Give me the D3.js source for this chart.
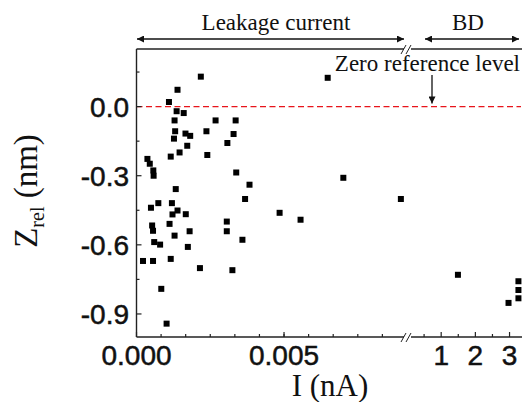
<!DOCTYPE html>
<html>
<head>
<meta charset="utf-8">
<script src="https://cdn.jsdelivr.net/npm/d3@7"></script>
<style>
  body { margin: 0; background: #fff; }
  svg { display: block; }
</style>
</head>
<body>
<div id="chart"></div>
<script>
// leakage current points (I in nA, Zrel in nm)
const leakI = [0.00218, 0.00139, 0.00110, 0.00136, 0.00160, 0.00129, 0.00268, 0.00336,
  0.00131, 0.00237, 0.00329, 0.00166, 0.00182, 0.00127, 0.00172, 0.00308, 0.00146,
  0.00116, 0.00240, 0.00037, 0.00045, 0.00057, 0.00058, 0.00338, 0.00383, 0.00133,
  0.00368, 0.00074, 0.00120, 0.00049, 0.00139, 0.00122, 0.00167, 0.00112, 0.00306,
  0.00053, 0.00056, 0.00129, 0.00180, 0.00306, 0.00359, 0.00060, 0.00080, 0.00174,
  0.00022, 0.00056, 0.00116, 0.00215, 0.00325, 0.00084, 0.00102, 0.00648, 0.00701,
  0.00485, 0.00556, 0.00896];
const leakZ = [0.130, 0.073, 0.020, -0.020, -0.028, -0.060, -0.060, -0.060,
  -0.107, -0.107, -0.119, -0.117, -0.127, -0.139, -0.170, -0.158, -0.199,
  -0.217, -0.210, -0.227, -0.248, -0.277, -0.300, -0.286, -0.339, -0.358,
  -0.401, -0.419, -0.419, -0.439, -0.451, -0.468, -0.467, -0.509, -0.499,
  -0.516, -0.539, -0.560, -0.541, -0.541, -0.578, -0.588, -0.599, -0.609,
  -0.670, -0.670, -0.661, -0.701, -0.710, -0.791, -0.942, 0.125, -0.309,
  -0.461, -0.491, -0.401];
// breakdown points
const bdI = [1.49, 2.97, 3.26, 3.26, 3.26];
const bdZ = [-0.730, -0.852, -0.758, -0.796, -0.832];

const yTicks = [0.0, -0.3, -0.6, -0.9];
const yMinor = [0.15, -0.15, -0.45, -0.75];
const leakTicks = [0, 0.005];
const bdTicks = [1, 2, 3];
const bdMinor = [0.5, 1.5, 2.5];

const W = 522, H = 402;
const mLeft = 136.5, mRight = 521, mTop = 49, mBottom = 337;
const breakX = 407;

const svg = d3.select("#chart").append("svg")
  .attr("width", W).attr("height", H);

const y = d3.scaleLinear().domain([-1.0, 0.25]).range([mBottom, mTop]);
const xLeak = d3.scaleLinear().domain([0, 0.0091]).range([mLeft, 405]);
const xBD = d3.scaleLinear().domain([0, 3.335]).range([breakX, mRight]);

const axisColor = "#222";
const serif = "'Liberation Serif', 'Times New Roman', serif";
const sans = "'Liberation Sans', Arial, sans-serif";

// arrowhead marker
svg.append("defs").append("marker")
  .attr("id", "ah")
  .attr("viewBox", "0 0 10 10")
  .attr("refX", 10).attr("refY", 5)
  .attr("markerWidth", 9).attr("markerHeight", 7)
  .attr("markerUnits", "userSpaceOnUse")
  .attr("orient", "auto-start-reverse")
  .append("path").attr("d", "M0,0 L10,5 L0,10 z").attr("fill", "#111");

// zero reference line
svg.append("line")
  .attr("x1", mLeft).attr("x2", mRight)
  .attr("y1", y(0)).attr("y2", y(0))
  .attr("stroke", "#e8141b").attr("stroke-width", 1.4)
  .attr("stroke-dasharray", "6,3.5");

// axes frame
const gAx = svg.append("g").attr("stroke", axisColor).attr("stroke-width", 1.4).attr("fill", "none");
gAx.append("line").attr("x1", mLeft).attr("x2", mLeft).attr("y1", mTop).attr("y2", mBottom);
[mTop, mBottom].forEach(yy => {
  gAx.append("line").attr("x1", mLeft).attr("x2", 404).attr("y1", yy).attr("y2", yy);
  gAx.append("line").attr("x1", 411).attr("x2", mRight + 1).attr("y1", yy).attr("y2", yy);
  // break marks
  gAx.append("line").attr("x1", 401).attr("x2", 406).attr("y1", yy + 5).attr("y2", yy - 4).attr("stroke-width", 1);
  gAx.append("line").attr("x1", 406).attr("x2", 411).attr("y1", yy + 5).attr("y2", yy - 4).attr("stroke-width", 1);
});

// y ticks (inward)
const gTicks = svg.append("g").attr("stroke", axisColor).attr("stroke-width", 1.2);
yTicks.forEach(v => gTicks.append("line").attr("x1", mLeft).attr("x2", mLeft + 5).attr("y1", y(v)).attr("y2", y(v)));
yMinor.forEach(v => gTicks.append("line").attr("x1", mLeft).attr("x2", mLeft + 3).attr("y1", y(v)).attr("y2", y(v)));

// x ticks (inward)
const leakMinor = d3.range(1, 11).map(i => i * 0.005 / 6);
leakMinor.forEach(v => gTicks.append("line").attr("x1", xLeak(v)).attr("x2", xLeak(v)).attr("y1", mBottom).attr("y2", mBottom - 3));
leakTicks.forEach(v => gTicks.append("line").attr("x1", xLeak(v)).attr("x2", xLeak(v)).attr("y1", mBottom).attr("y2", mBottom - 5));
bdMinor.forEach(v => gTicks.append("line").attr("x1", xBD(v)).attr("x2", xBD(v)).attr("y1", mBottom).attr("y2", mBottom - 3));
bdTicks.forEach(v => gTicks.append("line").attr("x1", xBD(v)).attr("x2", xBD(v)).attr("y1", mBottom).attr("y2", mBottom - 5));

// tick labels
const fmtY = d => d3.format(".1f")(d).replace("\u2212", "-");
const tickLabel = sel => sel
  .attr("font-family", sans).attr("font-size", 28)
  .attr("fill", "#111").attr("stroke", "#111").attr("stroke-width", 0.5);

svg.append("g").selectAll("text").data(yTicks).join("text")
  .attr("x", 129).attr("y", d => y(d) + 10)
  .attr("text-anchor", "end")
  .call(tickLabel)
  .text(fmtY);

svg.append("g").selectAll("text").data(leakTicks).join("text")
  .attr("x", d => xLeak(d)).attr("y", 365)
  .attr("text-anchor", "middle")
  .call(tickLabel)
  .text(d => d3.format(".3f")(d));

svg.append("g").selectAll("text").data(bdTicks).join("text")
  .attr("x", d => xBD(d)).attr("y", 365)
  .attr("text-anchor", "middle")
  .call(tickLabel)
  .text(d => d);

// axis titles
svg.append("text")
  .attr("x", 330).attr("y", 396)
  .attr("text-anchor", "middle")
  .attr("font-family", serif).attr("font-size", 31)
  .attr("fill", "#111")
  .text("I (nA)");

const yl = svg.append("text")
  .attr("transform", "translate(37,191) rotate(-90)")
  .attr("text-anchor", "middle")
  .attr("font-family", serif).attr("font-size", 33)
  .attr("fill", "#111");
yl.append("tspan").text("Z");
yl.append("tspan").attr("font-size", 20).attr("dy", 7).text("rel");
yl.append("tspan").attr("dy", -7).text(" (nm)");

// region arrows and labels
svg.append("line").attr("x1", 137).attr("x2", 404).attr("y1", 39).attr("y2", 39)
  .attr("stroke", "#111").attr("stroke-width", 1.3)
  .attr("marker-start", "url(#ah)").attr("marker-end", "url(#ah)");
svg.append("line").attr("x1", 425).attr("x2", 519).attr("y1", 39).attr("y2", 39)
  .attr("stroke", "#111").attr("stroke-width", 1.3)
  .attr("marker-start", "url(#ah)").attr("marker-end", "url(#ah)");

svg.append("text").attr("x", 276).attr("y", 30)
  .attr("text-anchor", "middle")
  .attr("font-family", serif).attr("font-size", 23).attr("fill", "#111")
  .text("Leakage current");
svg.append("text").attr("x", 468).attr("y", 30)
  .attr("text-anchor", "middle")
  .attr("font-family", serif).attr("font-size", 23).attr("fill", "#111")
  .text("BD");

svg.append("text").attr("x", 520).attr("y", 71)
  .attr("text-anchor", "end")
  .attr("font-family", serif).attr("font-size", 23).attr("fill", "#111")
  .text("Zero reference level");
svg.append("line").attr("x1", 432).attr("x2", 432).attr("y1", 75).attr("y2", y(0) - 3)
  .attr("stroke", "#111").attr("stroke-width", 1.3)
  .attr("marker-end", "url(#ah)");

// points
const sz = 6;
const leakPts = leakI.map((v, i) => ({ x: xLeak(v), y: y(leakZ[i]) }));
const bdPts = bdI.map((v, i) => ({ x: xBD(v), y: y(bdZ[i]) }));
svg.append("g").selectAll("rect").data(leakPts.concat(bdPts)).join("rect")
  .attr("x", d => d.x - sz / 2).attr("y", d => d.y - sz / 2)
  .attr("width", sz).attr("height", sz)
  .attr("fill", "#000");
</script>
</body>
</html>
